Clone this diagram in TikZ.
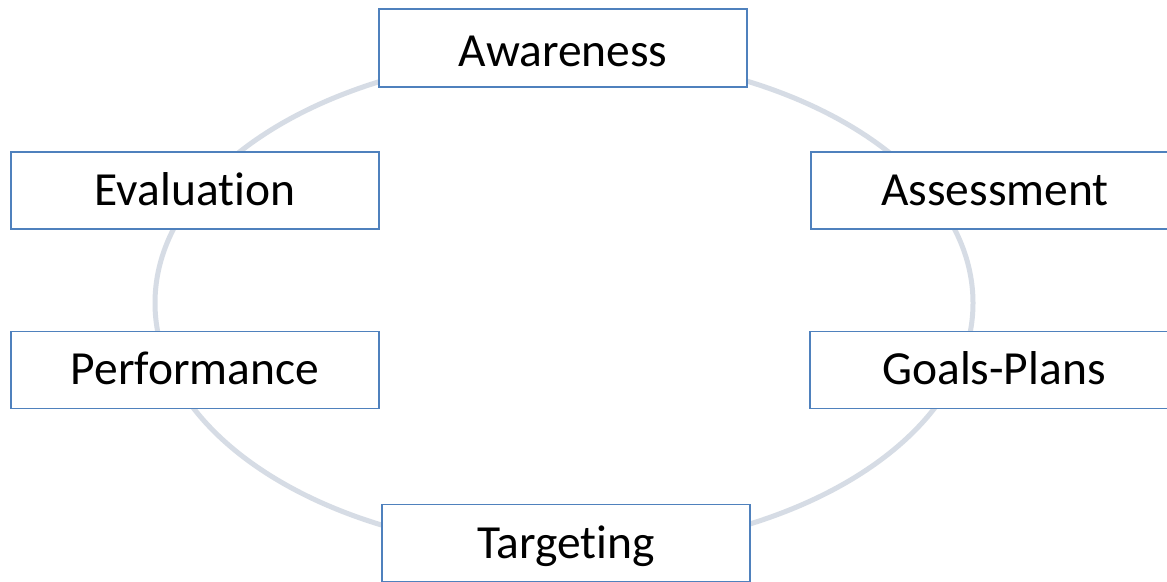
\documentclass[tikz,border=0pt]{standalone}
\usepackage{fontspec}
\usetikzlibrary{shapes.geometric}
\setmainfont[Ligatures=NoCommon]{Carlito}
\definecolor{ringcol}{HTML}{D6DCE5}
\definecolor{boxcol}{HTML}{4F81BD}
\tikzset{
  stagebox/.style={draw=boxcol, line width=1.5pt, fill=white, minimum width=368pt, minimum height=77pt, inner sep=0pt, text height=32pt, text depth=2pt, font=\fontsize{47.5}{57}\selectfont},
  ring/.style={draw=ringcol, line width=5pt}
}
\begin{document}
\begin{tikzpicture}[x=1pt,y=1pt]
\useasboundingbox (0,0) rectangle (1167,581);
\clip (0,0) rectangle (1167,581);
\fill[white] (0,0) rectangle (1167,581);
\node[ring, ellipse, minimum width=818pt, minimum height=496pt, inner sep=0pt, outer sep=0pt] (ringshape) at (564,278) {};
\node[stagebox, text height=38pt, text depth=0pt, minimum height=78pt] (aw) at (563,533) {Awareness};
\node[stagebox] (ev) at (195,390.5) {Evaluation};
\node[stagebox] (as) at (995,390.5) {Assessment};
\node[stagebox] (pe) at (195,211) {Performance};
\node[stagebox] (gp) at (994,211) {Goals-Plans};
\node[stagebox] (ta) at (566,38) {Targeting};
\end{tikzpicture}
\end{document}
